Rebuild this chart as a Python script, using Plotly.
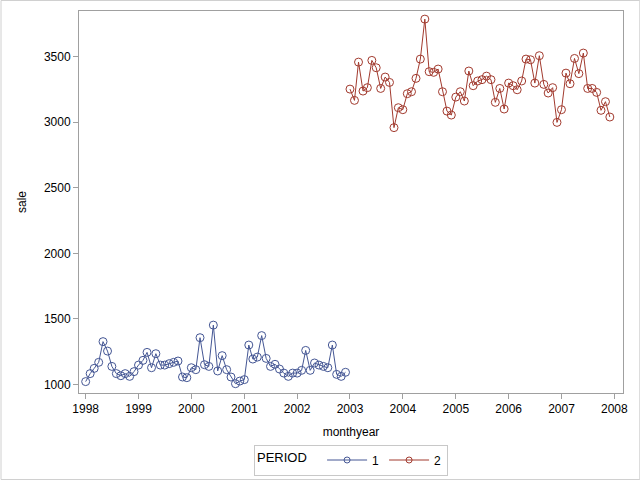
import plotly.graph_objects as go
import pandas as pd

period1_sale = [1021, 1082, 1122, 1168, 1326, 1254, 1137, 1082, 1066, 1082, 1061, 1097,
                1147, 1183, 1244, 1127, 1234, 1147, 1147, 1158, 1168, 1178, 1056, 1051,
                1127, 1112, 1356, 1150, 1137, 1452, 1102, 1219, 1112, 1056, 1005, 1025,
                1036, 1300, 1193, 1208, 1372, 1198, 1137, 1153, 1117, 1086, 1061, 1086,
                1086, 1107, 1259, 1107, 1163, 1147, 1137, 1127, 1300, 1076, 1061, 1092]
period2_sale = [3253, 3167, 3459, 3238, 3264, 3472, 3416, 3258, 3345, 3304, 2959, 3111,
                3096, 3218, 3233, 3335, 3482, 3787, 3386, 3381, 3406, 3233, 3085, 3055,
                3192, 3233, 3162, 3391, 3279, 3315, 3325, 3352, 3325, 3152, 3258, 3101,
                3299, 3279, 3248, 3315, 3482, 3477, 3299, 3508, 3289, 3223, 3264, 2999,
                3096, 3375, 3294, 3487, 3371, 3528, 3258, 3258, 3228, 3091, 3157, 3040]
period1_dates = pd.date_range("1998-01-01", periods=60, freq="MS")
period2_dates = pd.date_range("2003-01-01", periods=60, freq="MS")
year_ticks = [f"{y}-01-01" for y in range(1998, 2009)]
year_labels = [str(y) for y in range(1998, 2009)]
y_ticks = [1000, 1500, 2000, 2500, 3000, 3500]
colors = {"1": "#445694", "2": "#A23A2E"}

fig = go.Figure()
for name, xs, ys in [("1", period1_dates, period1_sale), ("2", period2_dates, period2_sale)]:
    c = colors[name]
    fig.add_trace(go.Scatter(x=xs, y=ys, name=name, mode="lines+markers", showlegend=False,
                             line=dict(color=c, width=1),
                             marker=dict(symbol="circle-open", size=8, color=c, line=dict(width=1))))
for name in ["1", "2"]:
    c = colors[name]
    fig.add_trace(go.Scatter(x=[None], y=[None], name=name, mode="lines+markers",
                             line=dict(color=c, width=1),
                             marker=dict(symbol="circle-open", size=6, color=c, line=dict(width=1))))

L, R, T, B = 78.5, 17.3, 11, 87
pw, ph = 640 - L - R, 480 - T - B
fig.update_layout(
    width=640, height=480,
    margin=dict(l=L, r=R, t=T, b=B, autoexpand=False),
    paper_bgcolor="white", plot_bgcolor="white",
    font=dict(family="Liberation Sans, Arial, sans-serif", size=12, color="black"),
    showlegend=True,
    legend=dict(orientation="h", x=0.5, xanchor="center", y=-(460 - 393) / ph, yanchor="middle",
                title=dict(text="PERIOD  ", font=dict(size=13)),
                bordercolor="#c8c8c8", borderwidth=1, font=dict(size=12),
                itemwidth=40, tracegroupgap=0),
    xaxis=dict(type="date", range=["1997-11-16", "2008-03-01"],
               tickvals=year_ticks, ticktext=year_labels, automargin=False,
               ticks="outside", ticklen=5, tickcolor="#a0a0a0",
               showline=True, linecolor="#a0a0a0", mirror=True, showgrid=False, zeroline=False,
               title=dict(text="monthyear", font=dict(size=12), standoff=12)),
    yaxis=dict(range=[934, 3849], tickvals=y_ticks, automargin=False,
               ticks="outside", ticklen=5, tickcolor="#a0a0a0",
               showline=True, linecolor="#a0a0a0", mirror=True, showgrid=False, zeroline=False,
               title=dict(text="sale", font=dict(size=12), standoff=14)),
    shapes=[dict(type="rect", xref="paper", yref="paper",
                 x0=(0.5 - L) / pw, x1=(639.5 - L) / pw,
                 y0=-(479.5 - T - ph) / ph, y1=1 + (T - 0.5) / ph,
                 line=dict(color="#d0d0d0", width=1))],
)
fig.write_html("out.html", config={"displayModeBar": False},
               post_script="document.body.style.margin='0';document.body.style.overflow='hidden';")
